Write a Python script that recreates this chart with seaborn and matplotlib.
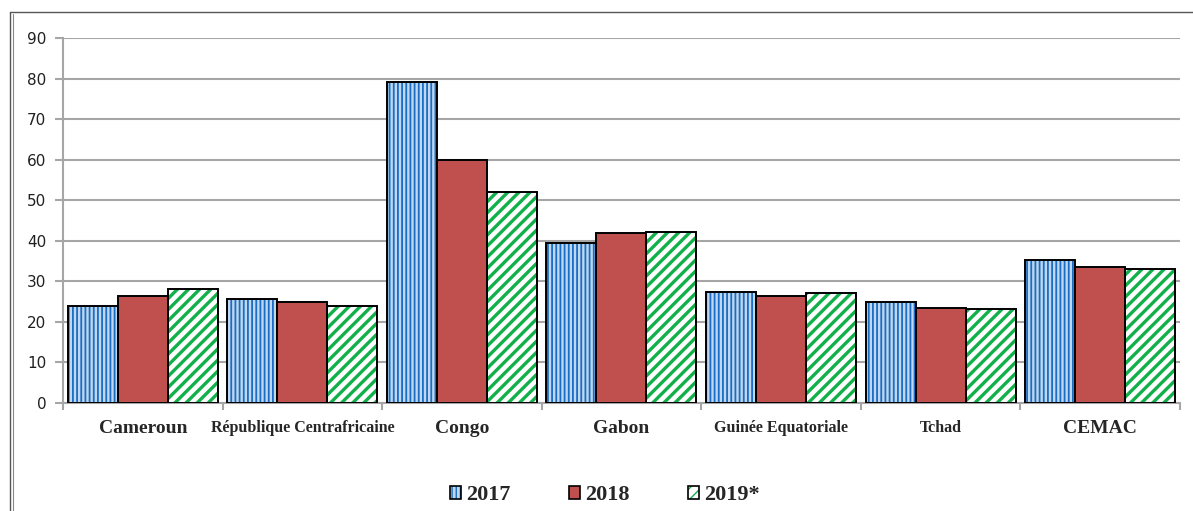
import matplotlib
matplotlib.use("Agg")
import matplotlib.pyplot as plt
from matplotlib.patches import Rectangle, Patch
from matplotlib.lines import Line2D
import seaborn as sns
import pandas as pd

# Data
pays = ["Cameroun", "République Centrafricaine", "Congo", "Gabon",
        "Guinée Equatoriale", "Tchad", "CEMAC"]
annees = ["2017", "2018", "2019*"]
v2017 = [24.0, 25.6, 79.2, 39.5, 27.4, 25.0, 35.2]
v2018 = [26.4, 24.9, 59.9, 41.9, 26.4, 23.5, 33.5]
v2019 = [28.1, 24.0, 52.0, 42.2, 27.0, 23.2, 33.1]

# small labels in the original
petits = ["République Centrafricaine", "Guinée Equatoriale", "Tchad"]

df = pd.DataFrame({
    "pays": pays * 3,
    "annee": [a for a in annees for _ in pays],
    "valeur": v2017 + v2018 + v2019,
})

face = {"2017": "#BFD8F0", "2018": "#C0504D", "2019*": "#FFFFFF"}
hatch_col = {"2017": "#1A6CC4", "2018": "#C0504D", "2019*": "#12B04A"}
hatch = {"2017": "||||", "2018": "", "2019*": "///"}
hatch_lw = {"2017": 1.3, "2018": 1.0, "2019*": 2.4}

sns.set_style("white")
plt.rcParams["font.family"] = ["DejaVu Sans"]

fig = plt.figure(figsize=(11.93, 5.11), dpi=100)
ax = fig.add_axes([0.0528, 0.2114, 0.9362, 0.7142])

sns.barplot(data=df, x="pays", y="valeur", hue="annee", palette=face,
            width=0.94, saturation=1, gap=0, legend=False, ax=ax, zorder=2)


def style_patch(p, an):
    p.set_facecolor(face[an])
    p.set_hatch(hatch[an])
    p.set_edgecolor(hatch_col[an])
    p.set_linewidth(0)
    if hasattr(p, "set_hatch_linewidth"):
        p.set_hatch_linewidth(hatch_lw[an])


for an, cont in zip(annees, ax.containers):
    for p in cont:
        style_patch(p, an)
        ax.add_patch(Rectangle(p.get_xy(), p.get_width(), p.get_height(),
                               fill=False, edgecolor="black", linewidth=1.4,
                               zorder=3))

# axes styling
ax.set_ylim(0, 90)
ax.set_yticks(range(0, 91, 10))
ax.set_xlim(-0.5, len(pays) - 0.5)
ax.yaxis.grid(True, color="#A6A6A6", linewidth=1.5, zorder=0)
ax.set_axisbelow(True)
for s in ["top", "right"]:
    ax.spines[s].set_visible(False)
for s in ["left", "bottom"]:
    ax.spines[s].set_color("#A6A6A6")
    ax.spines[s].set_linewidth(1.5)
ax.set_xlabel("")
ax.set_ylabel("")

ax.tick_params(axis="y", length=6, width=1.5, color="#A6A6A6", pad=6,
               labelsize=11, labelcolor="#202020", left=True)
ax.set_xticks([i + 0.5 for i in range(-1, len(pays))], minor=True)
ax.tick_params(axis="x", which="minor", length=5, width=1.5, color="#A6A6A6",
               bottom=True)
ax.set_xticks(range(len(pays)))
ax.set_xticklabels(pays)
ax.tick_params(axis="x", which="major", length=0, pad=12)
for lab in ax.get_xticklabels():
    lab.set_family(["Liberation Serif"])
    lab.set_fontweight("bold")
    lab.set_fontsize(11.5 if lab.get_text() in petits else 14)

# legend
handles = []
for an in annees:
    hp = Patch()
    style_patch(hp, an)
    op = Patch(fill=False, edgecolor="black", linewidth=1.2)
    handles.append((hp, op))
fig.legend(handles, annees, loc="center", bbox_to_anchor=(0.507, 0.031),
           ncol=3, frameon=False, handlelength=0.5, handleheight=0.5,
           handletextpad=0.25, columnspacing=2.6,
           prop={"family": "Liberation Serif", "weight": "bold", "size": 16})

# outer frame of the original picture
fig.add_artist(Line2D([10 / 1193, 1], [1 - 12 / 511] * 2,
                      color="#555555", linewidth=1.0))
fig.add_artist(Line2D([10 / 1193] * 2, [0, 1 - 12 / 511],
                      color="#555555", linewidth=1.0))
fig.add_artist(Line2D([13 / 1193] * 2, [0, 1 - 14 / 511],
                      color="#888888", linewidth=0.8))

fig.savefig("out.png", dpi=100)
